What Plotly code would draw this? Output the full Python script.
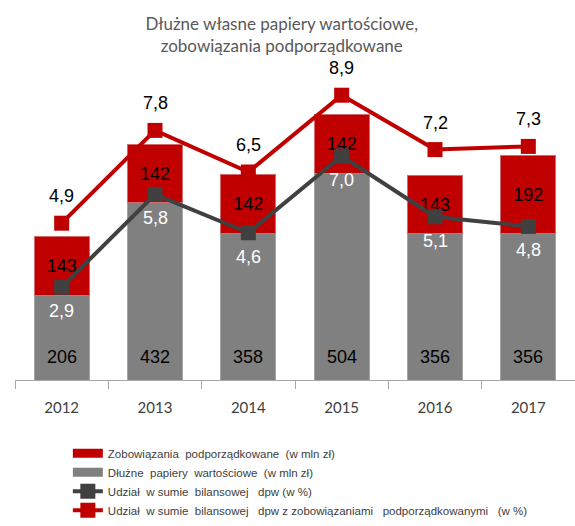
import plotly.graph_objects as go

years = ["2012", "2013", "2014", "2015", "2016", "2017"]
dpw = [206, 432, 358, 504, 356, 356]
zob = [143, 142, 142, 142, 143, 192]
udzial_dpw = [2.9, 5.8, 4.6, 7.0, 5.1, 4.8]
udzial_total = [4.9, 7.8, 6.5, 8.9, 7.2, 7.3]

RED = "#C00000"
GRAY = "#808080"
DARK = "#404040"
LBL = dict(size=18, family="Liberation Sans, Arial")

def pl(v):
    return f"{v:.1f}".replace(".", ",")

fig = go.Figure()
fig.add_trace(go.Bar(
    x=years, y=dpw, name="Dłużne papiery wartościowe (w mln zł)",
    marker=dict(color=GRAY, line=dict(color="#A6A6A6", width=1)),
    showlegend=False, hoverinfo="skip",
))
fig.add_trace(go.Bar(
    x=years, y=zob, name="Zobowiązania podporządkowane (w mln zł)",
    marker=dict(color=RED, line=dict(color="#D46A6A", width=1)),
    text=[str(v) for v in zob], textposition="inside", insidetextanchor="middle",
    textfont=dict(color="black", **LBL), showlegend=False, hoverinfo="skip",
))
fig.add_trace(go.Scatter(
    x=years, y=udzial_dpw, yaxis="y2", mode="lines+markers",
    name="Udział  w sumie  bilansowej   dpw (w %)",
    line=dict(color=DARK, width=4), marker=dict(symbol="square", size=15, color=DARK),
    legendrank=3, legendgroup="c", hoverinfo="skip",
))
fig.add_trace(go.Scatter(
    x=years, y=udzial_total, yaxis="y2", mode="lines+markers",
    name="Udział  w sumie  bilansowej   dpw z zobowiązaniami   podporządkowanymi   (w %)",
    line=dict(color=RED, width=4), marker=dict(symbol="square", size=15, color=RED),
    legendrank=4, legendgroup="d", hoverinfo="skip",
))
# legend swatches for the bar series
fig.add_trace(go.Scatter(x=[None], y=[None], mode="lines", line=dict(color=RED, width=9),
                         name="Zobowiązania  podporządkowane  (w mln zł)",
                         legendrank=1, legendgroup="a"))
fig.add_trace(go.Scatter(x=[None], y=[None], mode="lines", line=dict(color=GRAY, width=9),
                         name="Dłużne  papiery  wartościowe  (w mln zł)",
                         legendrank=2, legendgroup="b"))

for i, v in enumerate(dpw):
    fig.add_annotation(x=i, y=0, xref="x", yref="y", text=str(v), showarrow=False,
                       yshift=23, yanchor="middle", font=dict(color="black", **LBL))
for i, v in enumerate(udzial_dpw):
    fig.add_annotation(x=i, y=v, xref="x", yref="y2", text=pl(v), showarrow=False,
                       yshift=-24, yanchor="middle", font=dict(color="white", **LBL))
for i, v in enumerate(udzial_total):
    fig.add_annotation(x=i, y=v, xref="x", yref="y2", text=pl(v), showarrow=False,
                       yshift=27, yanchor="middle", font=dict(color="black", **LBL))

fig.update_layout(
    width=575, height=526,
    margin=dict(l=15, r=0, t=60, b=146, autoexpand=False),
    paper_bgcolor="white", plot_bgcolor="white",
    barmode="stack", bargap=0.41,
    title=dict(text="Dłużne własne papiery wartościowe,<br>zobowiązania podporządkowane",
               x=0.49, xanchor="center", y=0.943, yanchor="top",
               font=dict(family="Lato, sans-serif", size=17, color="#595959")),
    xaxis=dict(type="category", range=[-0.5, 5.5], showline=True, linecolor="#A6A6A6",
               linewidth=1, ticks="outside", tickson="boundaries", ticklen=8,
               tickcolor="#A6A6A6", tickangle=0,
               tickfont=dict(family="Lato, sans-serif", size=15, color="#404040"),
               ticklabelstandoff=14, showgrid=False),
    yaxis=dict(range=[0, 780], visible=False, showgrid=False),
    yaxis2=dict(range=[0, 10], overlaying="y", side="right", visible=False, showgrid=False),
    showlegend=True,
    legend=dict(orientation="v", xref="container", yref="container",
                x=0.118, xanchor="left", y=0.166, yanchor="top",
                traceorder="normal", tracegroupgap=15, bgcolor="rgba(0,0,0,0)",
                font=dict(family="Liberation Sans Narrow, Arial Narrow, Liberation Sans, sans-serif",
                          size=11.5, color="#404040")),
)

fig.write_html("out.html", config={"displayModeBar": False},
               post_script="document.body.style.margin='0';")
